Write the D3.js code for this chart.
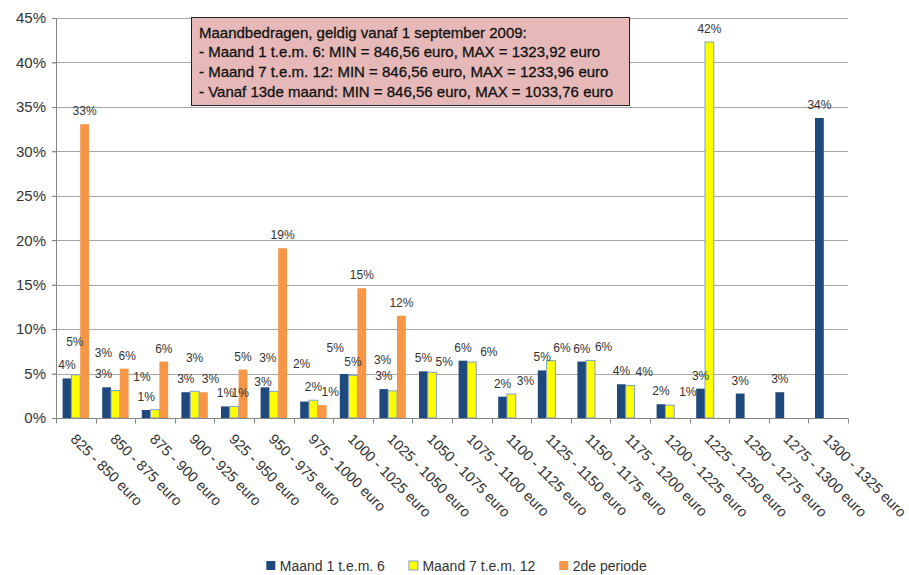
<!DOCTYPE html>
<html>
<head>
<meta charset="utf-8">
<script src="https://cdn.jsdelivr.net/npm/d3@7"></script>
<style>
  body { margin: 0; background: #fff; }
  svg { display: block; font-family: "Liberation Sans", Arial, sans-serif; }
</style>
</head>
<body>
<div id="chart"></div>
<script>
// categories (x axis)
const categories = ['825 - 850 euro', '850 - 875 euro', '875 - 900 euro', '900 - 925 euro',
  '925 - 950 euro', '950 - 975 euro', '975 - 1000 euro', '1000 - 1025 euro', '1025 - 1050 euro',
  '1050 - 1075 euro', '1075 - 1100 euro', '1100 - 1125 euro', '1125 - 1150 euro',
  '1150 - 1175 euro', '1175 - 1200 euro', '1200 - 1225 euro', '1225 - 1250 euro',
  '1250 - 1275 euro', '1275 - 1300 euro', '1300 - 1325 euro'];

const seriesNames = ['Maand 1 t.e.m. 6', 'Maand 7 t.e.m. 12', '2de periode'];

// values in percent
const maand1tm6 = [4.45, 3.45, 0.9, 2.9, 1.3, 3.45, 1.85, 4.95, 3.25, 5.25,
  6.45, 2.4, 5.35, 6.35, 3.8, 1.55, 3.3, 2.75, 2.9, 33.75];
const maand7tm12 = [4.85, 3.1, 0.95, 3.0, 1.3, 3.0, 2.0, 4.8, 3.05, 5.15,
  6.3, 2.7, 6.45, 6.48, 3.65, 1.45, 42.3, null, null, null];
const tweedePeriode = [33.05, 5.55, 6.35, 2.9, 5.45, 19.1, 1.45, 14.6, 11.5, null,
  null, null, null, null, null, null, null, null, null, null];

const yTicks = [0, 5, 10, 15, 20, 25, 30, 35, 40, 45];

const infoLines = ['Maandbedragen, geldig vanaf 1 september 2009:',
  '- Maand 1 t.e.m. 6: MIN = 846,56 euro, MAX = 1323,92 euro',
  '- Maand 7 t.e.m. 12: MIN = 846,56 euro, MAX = 1233,96 euro',
  '- Vanaf 13de maand: MIN = 846,56 euro, MAX = 1033,76 euro'];

const colors = ['#1f497d', '#ffff00', '#f79646'];

// labels were dragged around by hand in the original: [dx, dy] from bar top
const labelShift = {
  '0-1': [-3, -9], '0-5': [-2, -1], '0-6': [-3, -34], '0-7': [-9, -22],
  '1-0': [-1, -29], '1-1': [-12, -33], '1-2': [-13, -29], '1-3': [0, -29], '1-4': [6, -9],
  '1-5': [-6, -29], '1-8': [-10, -27], '1-9': [12, -6], '1-10': [17, -6], '1-11': [14, -9],
  '1-12': [11, -9], '1-13': [13, -9], '1-14': [14, -10], '1-15': [18, -9],
  '2-1': [3, -9], '2-3': [7, -9], '2-6': [8, -9]
};

const width = 909, height = 575;
const plot = { left: 56, right: 848, top: 18, bottom: 418 };

const svg = d3.select('#chart').append('svg')
  .attr('width', width)
  .attr('height', height);

const x0 = d3.scaleBand()
  .domain(categories)
  .range([plot.left, plot.right]);

const bw = x0.bandwidth();
const x1 = d3.scaleBand()
  .domain(d3.range(seriesNames.length))
  .range([bw / 6, bw * 5 / 6]);

const y = d3.scaleLinear()
  .domain([0, 45])
  .range([plot.bottom, plot.top]);

const crisp = v => Math.round(v) + 0.5;

// gridlines
svg.append('g')
  .selectAll('line')
  .data(yTicks.filter(d => d > 0))
  .join('line')
    .attr('x1', plot.left - 4)
    .attr('x2', plot.right)
    .attr('y1', d => crisp(y(d)))
    .attr('y2', d => crisp(y(d)))
    .attr('stroke', '#a6a6a6')
    .attr('stroke-width', 1);

// y axis
const yAxis = svg.append('g')
  .attr('transform', 'translate(' + plot.left + ',0)')
  .call(d3.axisLeft(y).tickValues(yTicks).tickSize(4).tickSizeOuter(0)
    .tickFormat(d => d + '%'));
yAxis.select('.domain').attr('stroke', '#868686');
yAxis.selectAll('.tick line').attr('stroke', '#868686');
yAxis.selectAll('.tick text')
  .attr('x', -10)
  .attr('font-size', 15)
  .attr('font-family', '"Liberation Sans", Arial, sans-serif')
  .attr('fill', '#333');

// bars
const series = [maand1tm6, maand7tm12, tweedePeriode];
const barData = [];
series.forEach((vals, s) => vals.forEach((v, i) => {
  if (v != null) barData.push({ s: s, i: i, cat: categories[i], v: v });
}));

svg.append('g')
  .selectAll('rect')
  .data(barData)
  .join('rect')
    .attr('x', d => x0(d.cat) + x1(d.s))
    .attr('y', d => y(d.v))
    .attr('width', x1.bandwidth())
    .attr('height', d => y(0) - y(d.v))
    .attr('fill', d => colors[d.s])
    .attr('stroke', d => d.s === 1 ? '#7f9fd0' : 'none')
    .attr('stroke-width', 1);

// x axis line + ticks between categories
svg.append('line')
  .attr('x1', plot.left - 4).attr('x2', plot.right)
  .attr('y1', crisp(y(0))).attr('y2', crisp(y(0)))
  .attr('stroke', '#868686');

svg.append('g')
  .selectAll('line')
  .data(categories.map(c => x0(c)).concat([plot.right]))
  .join('line')
    .attr('x1', d => crisp(d)).attr('x2', d => crisp(d))
    .attr('y1', crisp(y(0))).attr('y2', crisp(y(0)) + 5)
    .attr('stroke', '#868686');

// data labels
svg.append('g')
  .selectAll('text')
  .data(barData)
  .join('text')
    .attr('x', d => {
      const sh = labelShift[d.s + '-' + d.i] || [0, -9];
      return x0(d.cat) + x1(d.s) + x1.bandwidth() / 2 + sh[0];
    })
    .attr('y', d => {
      const sh = labelShift[d.s + '-' + d.i] || [0, -9];
      return y(d.v) + sh[1];
    })
    .attr('text-anchor', 'middle')
    .attr('font-size', 12)
    .attr('fill', '#333')
    .text(d => Math.round(d.v) + '%');

// category labels, rotated 45 degrees
svg.append('g')
  .selectAll('text')
  .data(categories)
  .join('text')
    .attr('transform', d => 'translate(' + (x0(d) + bw / 2 - 6) + ',440) rotate(45)')
    .attr('font-size', 14.5)
    .attr('fill', '#333')
    .text(d => d);

// info box
const box = svg.append('g');
box.append('rect')
  .attr('x', 191.5).attr('y', 17.5)
  .attr('width', 438).attr('height', 88)
  .attr('fill', '#e6b9b8')
  .attr('stroke', '#222');
box.selectAll('text')
  .data(infoLines)
  .join('text')
    .attr('x', 199)
    .attr('y', (d, i) => 37.7 + i * 19.7)
    .attr('font-size', 15)
    .attr('fill', '#111')
    .attr('stroke', '#111')
    .attr('stroke-width', 0.3)
    .text(d => d);

// legend
const legend = svg.append('g').attr('class', 'legend');
const items = legend.selectAll('g')
  .data(seriesNames)
  .join('g');
items.append('rect')
  .attr('width', 9).attr('height', 9)
  .attr('y', 561)
  .attr('fill', (d, i) => colors[i])
  .attr('stroke', (d, i) => i === 1 ? '#7f9fd0' : 'none');
items.append('text')
  .attr('x', 13.5)
  .attr('y', 570.5)
  .attr('font-size', 14)
  .attr('fill', '#333')
  .text(d => d);

let pos = 0;
const offs = [];
items.each(function () {
  offs.push(pos);
  pos += 13.5 + this.querySelector('text').getComputedTextLength() + 24;
});
const legendWidth = pos - 24;
const legendStart = 456.5 - legendWidth / 2;
items.attr('transform', (d, i) => 'translate(' + (legendStart + offs[i]) + ',0)');
</script>
</body>
</html>
